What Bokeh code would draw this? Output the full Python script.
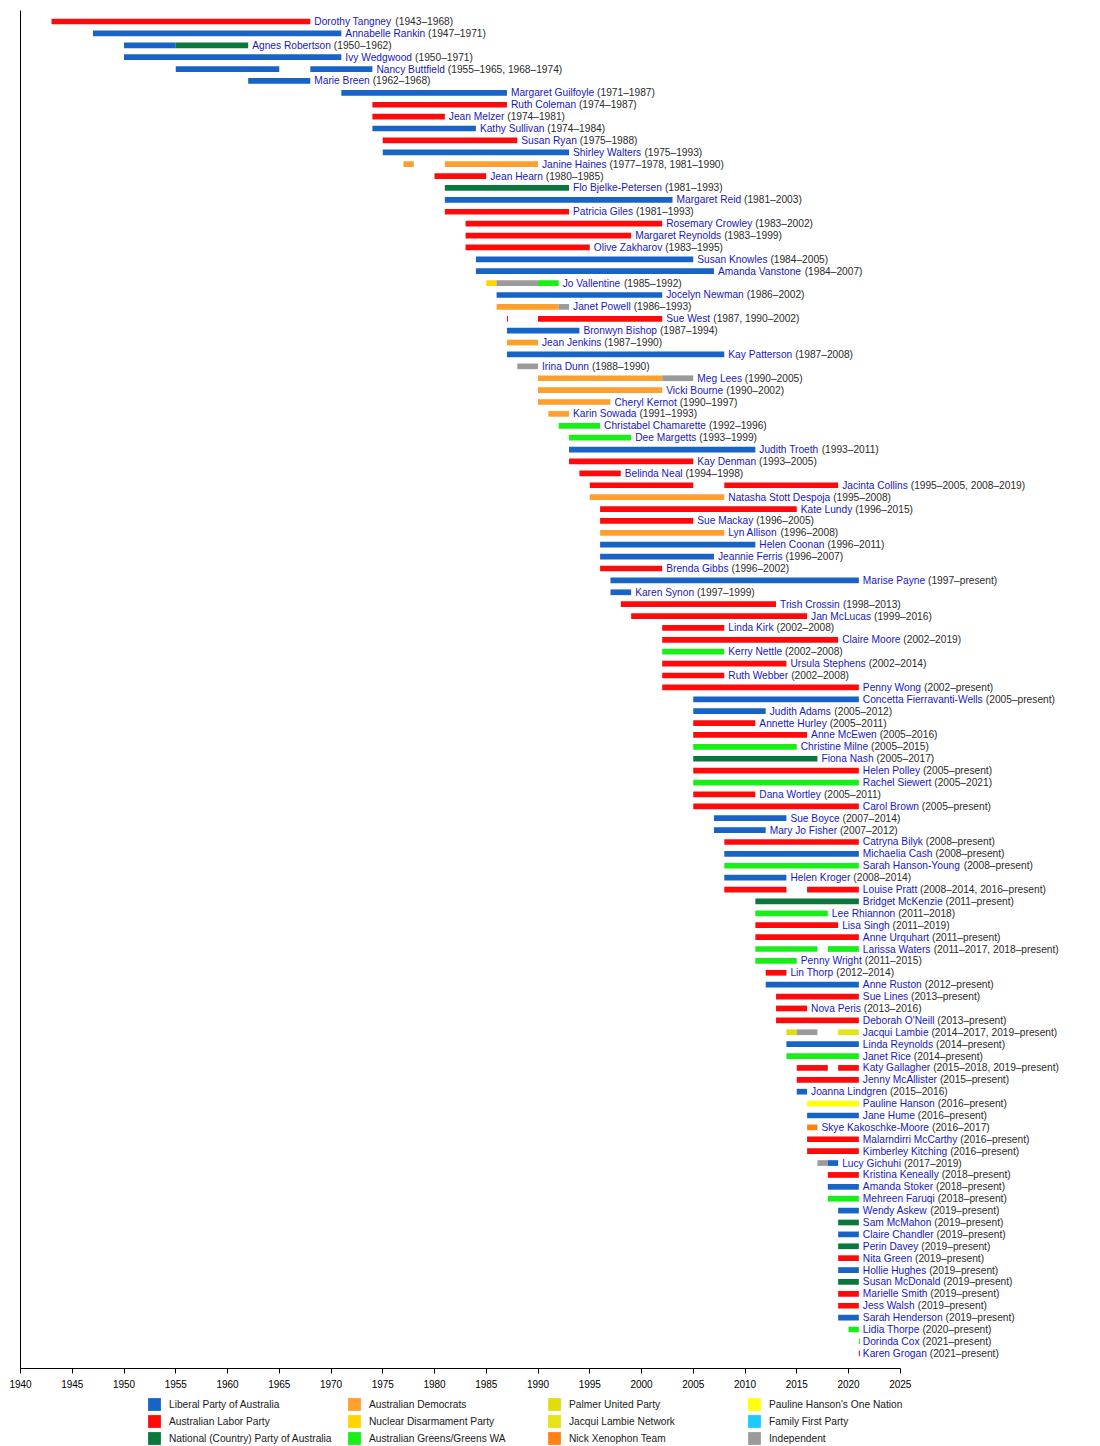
from bokeh.plotting import figure
from bokeh.models import ColumnDataSource, Range1d, FixedTicker, Legend, LegendItem
from bokeh.layouts import column
from bokeh.embed import file_html
from bokeh.resources import INLINE
from bokeh.core.properties import value

# ---------------- data ----------------
PRESENT = 2021

senators = [
    "Dorothy Tangney", "Annabelle Rankin", "Agnes Robertson", "Ivy Wedgwood", "Nancy Buttfield",
    "Marie Breen", "Margaret Guilfoyle", "Ruth Coleman", "Jean Melzer", "Kathy Sullivan",
    "Susan Ryan", "Shirley Walters", "Janine Haines", "Jean Hearn", "Flo Bjelke-Petersen",
    "Margaret Reid", "Patricia Giles", "Rosemary Crowley", "Margaret Reynolds", "Olive Zakharov",
    "Susan Knowles", "Amanda Vanstone", "Jo Vallentine", "Jocelyn Newman", "Janet Powell",
    "Sue West", "Bronwyn Bishop", "Jean Jenkins", "Kay Patterson", "Irina Dunn",
    "Meg Lees", "Vicki Bourne", "Cheryl Kernot", "Karin Sowada", "Christabel Chamarette",
    "Dee Margetts", "Judith Troeth", "Kay Denman", "Belinda Neal", "Jacinta Collins",
    "Natasha Stott Despoja", "Kate Lundy", "Sue Mackay", "Lyn Allison", "Helen Coonan",
    "Jeannie Ferris", "Brenda Gibbs", "Marise Payne", "Karen Synon", "Trish Crossin",
    "Jan McLucas", "Linda Kirk", "Claire Moore", "Kerry Nettle", "Ursula Stephens",
    "Ruth Webber", "Penny Wong", "Concetta Fierravanti-Wells", "Judith Adams", "Annette Hurley",
    "Anne McEwen", "Christine Milne", "Fiona Nash", "Helen Polley", "Rachel Siewert",
    "Dana Wortley", "Carol Brown", "Sue Boyce", "Mary Jo Fisher", "Catryna Bilyk",
    "Michaelia Cash", "Sarah Hanson-Young", "Helen Kroger", "Louise Pratt", "Bridget McKenzie",
    "Lee Rhiannon", "Lisa Singh", "Anne Urquhart", "Larissa Waters", "Penny Wright",
    "Lin Thorp", "Anne Ruston", "Sue Lines", "Nova Peris", "Deborah O'Neill",
    "Jacqui Lambie", "Linda Reynolds", "Janet Rice", "Katy Gallagher", "Jenny McAllister",
    "Joanna Lindgren", "Pauline Hanson", "Jane Hume", "Skye Kakoschke-Moore", "Malarndirri McCarthy",
    "Kimberley Kitching", "Lucy Gichuhi", "Kristina Keneally", "Amanda Stoker", "Mehreen Faruqi",
    "Wendy Askew", "Sam McMahon", "Claire Chandler", "Perin Davey", "Nita Green",
    "Hollie Hughes", "Susan McDonald", "Marielle Smith", "Jess Walsh", "Sarah Henderson",
    "Lidia Thorpe", "Dorinda Cox", "Karen Grogan",
]

tenure = [
    "(1943–1968)", "(1947–1971)", "(1950–1962)", "(1950–1971)", "(1955–1965, 1968–1974)",
    "(1962–1968)", "(1971–1987)", "(1974–1987)", "(1974–1981)", "(1974–1984)",
    "(1975–1988)", "(1975–1993)", "(1977–1978, 1981–1990)", "(1980–1985)", "(1981–1993)",
    "(1981–2003)", "(1981–1993)", "(1983–2002)", "(1983–1999)", "(1983–1995)",
    "(1984–2005)", "(1984–2007)", "(1985–1992)", "(1986–2002)", "(1986–1993)",
    "(1987, 1990–2002)", "(1987–1994)", "(1987–1990)", "(1987–2008)", "(1988–1990)",
    "(1990–2005)", "(1990–2002)", "(1990–1997)", "(1991–1993)", "(1992–1996)",
    "(1993–1999)", "(1993–2011)", "(1993–2005)", "(1994–1998)", "(1995–2005, 2008–2019)",
    "(1995–2008)", "(1996–2015)", "(1996–2005)", "(1996–2008)", "(1996–2011)",
    "(1996–2007)", "(1996–2002)", "(1997–present)", "(1997–1999)", "(1998–2013)",
    "(1999–2016)", "(2002–2008)", "(2002–2019)", "(2002–2008)", "(2002–2014)",
    "(2002–2008)", "(2002–present)", "(2005–present)", "(2005–2012)", "(2005–2011)",
    "(2005–2016)", "(2005–2015)", "(2005–2017)", "(2005–present)", "(2005–2021)",
    "(2005–2011)", "(2005–present)", "(2007–2014)", "(2007–2012)", "(2008–present)",
    "(2008–present)", "(2008–present)", "(2008–2014)", "(2008–2014, 2016–present)", "(2011–present)",
    "(2011–2018)", "(2011–2019)", "(2011–present)", "(2011–2017, 2018–present)", "(2011–2015)",
    "(2012–2014)", "(2012–present)", "(2013–present)", "(2013–2016)", "(2013–present)",
    "(2014–2017, 2019–present)", "(2014–present)", "(2014–present)", "(2015–2018, 2019–present)", "(2015–present)",
    "(2015–2016)", "(2016–present)", "(2016–present)", "(2016–2017)", "(2016–present)",
    "(2016–present)", "(2017–2019)", "(2018–present)", "(2018–present)", "(2018–present)",
    "(2019–present)", "(2019–present)", "(2019–present)", "(2019–present)", "(2019–present)",
    "(2019–present)", "(2019–present)", "(2019–present)", "(2019–present)", "(2019–present)",
    "(2020–present)", "(2021–present)", "(2021–present)",
]

# one entry per continuous term / party spell
term_senator = [
    "Dorothy Tangney", "Annabelle Rankin", "Agnes Robertson", "Agnes Robertson", "Ivy Wedgwood",
    "Nancy Buttfield", "Nancy Buttfield", "Marie Breen", "Margaret Guilfoyle", "Ruth Coleman",
    "Jean Melzer", "Kathy Sullivan", "Susan Ryan", "Shirley Walters", "Janine Haines",
    "Janine Haines", "Jean Hearn", "Flo Bjelke-Petersen", "Margaret Reid", "Patricia Giles",
    "Rosemary Crowley", "Margaret Reynolds", "Olive Zakharov", "Susan Knowles", "Amanda Vanstone",
    "Jo Vallentine", "Jo Vallentine", "Jo Vallentine", "Jocelyn Newman", "Janet Powell",
    "Janet Powell", "Sue West", "Sue West", "Bronwyn Bishop", "Jean Jenkins",
    "Kay Patterson", "Irina Dunn", "Meg Lees", "Meg Lees", "Vicki Bourne",
    "Cheryl Kernot", "Karin Sowada", "Christabel Chamarette", "Dee Margetts", "Judith Troeth",
    "Kay Denman", "Belinda Neal", "Jacinta Collins", "Jacinta Collins", "Natasha Stott Despoja",
    "Kate Lundy", "Sue Mackay", "Lyn Allison", "Helen Coonan", "Jeannie Ferris",
    "Brenda Gibbs", "Marise Payne", "Karen Synon", "Trish Crossin", "Jan McLucas",
    "Linda Kirk", "Claire Moore", "Kerry Nettle", "Ursula Stephens", "Ruth Webber",
    "Penny Wong", "Concetta Fierravanti-Wells", "Judith Adams", "Annette Hurley", "Anne McEwen",
    "Christine Milne", "Fiona Nash", "Helen Polley", "Rachel Siewert", "Dana Wortley",
    "Carol Brown", "Sue Boyce", "Mary Jo Fisher", "Catryna Bilyk", "Michaelia Cash",
    "Sarah Hanson-Young", "Helen Kroger", "Louise Pratt", "Louise Pratt", "Bridget McKenzie",
    "Lee Rhiannon", "Lisa Singh", "Anne Urquhart", "Larissa Waters", "Larissa Waters",
    "Penny Wright", "Lin Thorp", "Anne Ruston", "Sue Lines", "Nova Peris",
    "Deborah O'Neill", "Jacqui Lambie", "Jacqui Lambie", "Jacqui Lambie", "Linda Reynolds",
    "Janet Rice", "Katy Gallagher", "Katy Gallagher", "Jenny McAllister", "Joanna Lindgren",
    "Pauline Hanson", "Jane Hume", "Skye Kakoschke-Moore", "Malarndirri McCarthy", "Kimberley Kitching",
    "Lucy Gichuhi", "Lucy Gichuhi", "Kristina Keneally", "Amanda Stoker", "Mehreen Faruqi",
    "Wendy Askew", "Sam McMahon", "Claire Chandler", "Perin Davey", "Nita Green",
    "Hollie Hughes", "Susan McDonald", "Marielle Smith", "Jess Walsh", "Sarah Henderson",
    "Lidia Thorpe", "Dorinda Cox", "Karen Grogan",
]
term_party = [
    "ALP", "LIB", "LIB", "NAT", "LIB",
    "LIB", "LIB", "LIB", "LIB", "ALP",
    "ALP", "LIB", "ALP", "LIB", "DEM",
    "DEM", "ALP", "NAT", "LIB", "ALP",
    "ALP", "ALP", "ALP", "LIB", "LIB",
    "NDP", "IND", "GRN", "LIB", "DEM",
    "IND", "ALP", "ALP", "LIB", "DEM",
    "LIB", "IND", "DEM", "IND", "DEM",
    "DEM", "DEM", "GRN", "GRN", "LIB",
    "ALP", "ALP", "ALP", "ALP", "DEM",
    "ALP", "ALP", "DEM", "LIB", "LIB",
    "ALP", "LIB", "LIB", "ALP", "ALP",
    "ALP", "ALP", "GRN", "ALP", "ALP",
    "ALP", "LIB", "LIB", "ALP", "ALP",
    "GRN", "NAT", "ALP", "GRN", "ALP",
    "ALP", "LIB", "LIB", "ALP", "LIB",
    "GRN", "LIB", "ALP", "ALP", "NAT",
    "GRN", "ALP", "ALP", "GRN", "GRN",
    "GRN", "ALP", "LIB", "ALP", "ALP",
    "ALP", "PUP", "IND", "JLN", "LIB",
    "GRN", "ALP", "ALP", "ALP", "LIB",
    "ONP", "LIB", "NXT", "ALP", "ALP",
    "IND", "LIB", "ALP", "LIB", "GRN",
    "LIB", "NAT", "LIB", "NAT", "ALP",
    "LIB", "NAT", "ALP", "ALP", "LIB",
    "GRN", "GRN", "ALP",
]
term_start = [
    1943, 1947, 1950, 1955, 1950,
    1955, 1968, 1962, 1971, 1974,
    1974, 1974, 1975, 1975, 1977,
    1981, 1980, 1981, 1981, 1981,
    1983, 1983, 1983, 1984, 1984,
    1985, 1986, 1990, 1986, 1986,
    1992, 1987, 1990, 1987, 1987,
    1987, 1988, 1990, 2002, 1990,
    1990, 1991, 1992, 1993, 1993,
    1993, 1994, 1995, 2008, 1995,
    1996, 1996, 1996, 1996, 1996,
    1996, 1997, 1997, 1998, 1999,
    2002, 2002, 2002, 2002, 2002,
    2002, 2005, 2005, 2005, 2005,
    2005, 2005, 2005, 2005, 2005,
    2005, 2007, 2007, 2008, 2008,
    2008, 2008, 2008, 2016, 2011,
    2011, 2011, 2011, 2011, 2018,
    2011, 2012, 2012, 2013, 2013,
    2013, 2014, 2015, 2019, 2014,
    2014, 2015, 2019, 2015, 2015,
    2016, 2016, 2016, 2016, 2016,
    2017, 2018, 2018, 2018, 2018,
    2019, 2019, 2019, 2019, 2019,
    2019, 2019, 2019, 2019, 2019,
    2020, 2021, 2021,
]
term_end = [
    1968, 1971, 1955, 1962, 1971,
    1965, 1974, 1968, 1987, 1987,
    1981, 1984, 1988, 1993, 1978,
    1990, 1985, 1993, 2003, 1993,
    2002, 1999, 1995, 2005, 2007,
    1986, 1990, 1992, 2002, 1992,
    1993, 1987, 2002, 1994, 1990,
    2008, 1990, 2002, 2005, 2002,
    1997, 1993, 1996, 1999, 2011,
    2005, 1998, 2005, 2019, 2008,
    2015, 2005, 2008, 2011, 2007,
    2002, PRESENT, 1999, 2013, 2016,
    2008, 2019, 2008, 2014, 2008,
    PRESENT, PRESENT, 2012, 2011, 2016,
    2015, 2017, PRESENT, 2021, 2011,
    PRESENT, 2014, 2012, PRESENT, PRESENT,
    PRESENT, 2014, 2014, PRESENT, PRESENT,
    2018, 2019, PRESENT, 2017, PRESENT,
    2015, 2014, PRESENT, PRESENT, 2016,
    PRESENT, 2015, 2017, PRESENT, PRESENT,
    PRESENT, 2018, PRESENT, PRESENT, 2016,
    PRESENT, PRESENT, 2017, PRESENT, PRESENT,
    2018, 2019, PRESENT, PRESENT, PRESENT,
    PRESENT, PRESENT, PRESENT, PRESENT, PRESENT,
    PRESENT, PRESENT, PRESENT, PRESENT, PRESENT,
    PRESENT, PRESENT, PRESENT,
]

party_keys = ["LIB", "ALP", "NAT", "DEM", "NDP", "GRN", "PUP", "JLN", "NXT", "ONP", "FFP", "IND"]
party_names = [
    "Liberal Party of Australia", "Australian Labor Party", "National (Country) Party of Australia",
    "Australian Democrats", "Nuclear Disarmament Party", "Australian Greens/Greens WA",
    "Palmer United Party", "Jacqui Lambie Network", "Nick Xenophon Team",
    "Pauline Hanson's One Nation", "Family First Party", "Independent",
]
party_colors = [
    "#1763c6", "#ff0a0a", "#0a783c",
    "#ffa02e", "#ffd400", "#18ee18",
    "#e2dc0e", "#e4e418", "#ff8214",
    "#ffff0a", "#1ccaff", "#9b9b9b",
]

# ---------------- helpers ----------------
FONT = "Liberation Sans"
FONT_PX = 10.2
NAME_COLOR = "#1717c2"
TEXT_COLOR = "#2a2a2a"
PX_PER_YEAR = 10.35
MIN_SPAN = 0.1  # years: so that a same-year spell still shows as a thin tick

ARIAL = {" ": 278, "-": 333, "'": 191, ".": 278,
         "A": 667, "B": 667, "C": 722, "D": 722, "E": 667, "F": 611, "G": 778, "H": 722,
         "I": 278, "J": 500, "K": 667, "L": 556, "M": 833, "N": 722, "O": 778, "P": 667,
         "Q": 778, "R": 722, "S": 667, "T": 611, "U": 722, "V": 667, "W": 944, "X": 667,
         "Y": 667, "Z": 611,
         "a": 556, "b": 556, "c": 500, "d": 556, "e": 556, "f": 278, "g": 556, "h": 556,
         "i": 222, "j": 222, "k": 500, "l": 222, "m": 833, "n": 556, "o": 556, "p": 556,
         "q": 556, "r": 333, "s": 500, "t": 278, "u": 556, "v": 500, "w": 722, "x": 500,
         "y": 500, "z": 500}


def text_width(s, size=FONT_PX):
    return sum(ARIAL.get(c, 556) for c in s) * size / 1000.0


color_of = dict(zip(party_keys, party_colors))
row_of = {name: i for i, name in enumerate(senators)}

bars = ColumnDataSource(data=dict(
    row=[row_of[s] for s in term_senator],
    left=term_start,
    right=[max(e, s + MIN_SPAN) for s, e in zip(term_start, term_end)],
    color=[color_of[p] for p in term_party],
))

label_x = []
for name in senators:
    label_x.append(max(e for s, e in zip(term_senator, term_end) if s == name))

NAME_GAP = 4
labels = ColumnDataSource(data=dict(
    x=label_x,
    row=list(range(len(senators))),
    name=senators,
    yrs=tenure,
    yoff=[NAME_GAP + text_width(n + " ") for n in senators],
))

# ---------------- main figure ----------------
W = 1090
LEFT = 20
TOP = 10
FRAME_H = 1358
BOTTOM = 28
frame_w = W - LEFT
x_end = 1940 + frame_w / PX_PER_YEAR
n = len(senators)

p = figure(width=W, height=TOP + FRAME_H + BOTTOM, output_backend="svg", toolbar_location=None,
           x_range=Range1d(1940, x_end), y_range=Range1d(n - 1 + 1.278, -0.925),
           min_border_left=LEFT, min_border_right=0, min_border_top=TOP,
           min_border_bottom=BOTTOM,
           outline_line_color=None, background_fill_color="white", border_fill_color="white")
p.grid.visible = False

p.hbar(y="row", left="left", right="right", height=0.48, fill_color="color",
       line_color=None, source=bars)

p.text(x="x", y="row", text="name", x_offset=NAME_GAP, text_align="left",
       text_baseline="middle", text_font=value(FONT), text_font_size=f"{FONT_PX}px",
       text_color=NAME_COLOR, source=labels)
p.text(x="x", y="row", text="yrs", x_offset="yoff", text_align="left",
       text_baseline="middle", text_font=value(FONT), text_font_size=f"{FONT_PX}px",
       text_color=TEXT_COLOR, source=labels)

xa = p.xaxis[0]
xa.ticker = FixedTicker(ticks=list(range(1940, 2026, 5)))
xa.bounds = (1940, 2025)
xa.minor_tick_line_color = None
xa.major_tick_in = 0
xa.major_tick_out = 5
xa.major_label_standoff = 6
xa.axis_line_color = "black"
xa.major_tick_line_color = "black"
xa.major_label_text_font = FONT
xa.major_label_text_font_size = "10px"
xa.major_label_text_color = "black"

ya = p.yaxis[0]
ya.ticker = FixedTicker(ticks=[])
ya.major_tick_line_color = None
ya.minor_tick_line_color = None
ya.major_tick_out = 0
ya.major_label_standoff = 0
ya.axis_line_color = "black"

# ---------------- legend figure ----------------
lf = figure(width=W, height=50, output_backend="svg", toolbar_location=None,
            x_axis_type=None, y_axis_type=None, min_border=0,
            outline_line_color=None, x_range=Range1d(0, 1), y_range=Range1d(0, 1))

party_src = ColumnDataSource(data=dict(k=list(range(len(party_keys))), color=party_colors))
# zero-size proxy glyph: only used for the legend swatches (one colour per index)
proxy = lf.hbar(y="k", left=0, right=0, height=0, fill_color="color", line_color=None,
                source=party_src)

for col in range(4):
    items = [LegendItem(label=party_names[k], renderers=[proxy], index=k)
             for k in range(3 * col, 3 * col + 3)]
    leg = Legend(items=items, location=(126 + 200 * col, 0), orientation="vertical",
                 glyph_width=16, glyph_height=16, label_height=16, label_standoff=7,
                 spacing=1, padding=0, margin=0, border_line_color=None,
                 background_fill_alpha=0, label_text_font=FONT,
                 label_text_font_size=f"{FONT_PX}px", label_text_color="#1a1a1a")
    lf.add_layout(leg, "center")

layout = column(p, lf, spacing=0)

with open("out.html", "w") as f:
    f.write(file_html(layout, INLINE))
